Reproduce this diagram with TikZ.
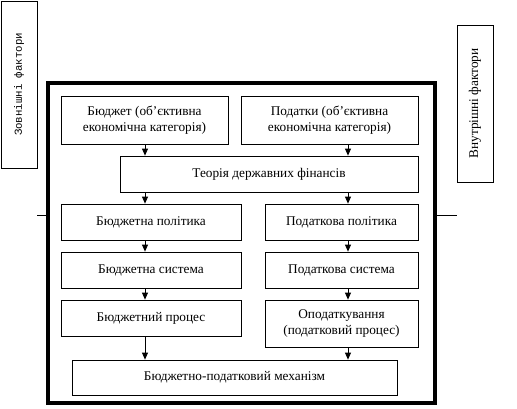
\documentclass[tikz,border=0pt]{standalone}
\usepackage{fontspec}
\setmainfont{Liberation Serif}
\newfontfamily\monofont{Liberation Mono}
\usetikzlibrary{arrows.meta}
\tikzset{
  blok/.style={draw, line width=0.8pt, align=center, inner sep=0pt, font=\fontsize{13.3}{16}\selectfont},
  strilka/.style={-{Triangle[width=6pt,length=7pt]}, line width=0.8pt},
}
\begin{document}
\begin{tikzpicture}[x=1pt,y=-1pt]
        \useasboundingbox (0,0) rectangle (517,408);
        % Зовнішні та внутрішні фактори
        \node[blok, rotate=90, minimum width=167pt, minimum height=36pt, font=\monofont\fontsize{10.7}{13}\selectfont] (zovn) at (19,84.5) {Зовнішні фактори};
        \node[blok, rotate=90, minimum width=157pt, minimum height=36pt] (vnutr) at (475,103.5) {Внутрішні фактори};
        \node[draw, line width=4pt, minimum width=387pt, minimum height=320pt] (ramka) at (241.5,243) {};
        \coordinate (lev) at (37,215);
        \coordinate (prav) at (457,215);
        \draw[line width=0.8pt] (lev) -- (lev -| ramka.west);
        \draw[line width=0.8pt] (ramka.east |- prav) -- (prav);
        % Блоки схеми
        \node[blok, minimum width=167pt, minimum height=48pt] (budget) at (144.5,120) {Бюджет (об’єктивна\\економічна категорія)};
        \node[blok, minimum width=177pt, minimum height=48pt] (taxes) at (329.5,120) {Податки (об’єктивна\\економічна категорія)};
        \node[blok, minimum width=298pt, minimum height=36pt] (theory) at (269,174) {Теорія державних фінансів};
        \node[blok, minimum width=180pt, minimum height=36pt] (bpol) at (151,222) {Бюджетна політика};
        \node[blok, minimum width=153pt, minimum height=36pt] (tpol) at (341.5,222) {Податкова політика};
        \node[blok, minimum width=180pt, minimum height=36pt] (bsys) at (151,270) {Бюджетна система};
        \node[blok, minimum width=153pt, minimum height=36pt] (tsys) at (341.5,270) {Податкова система};
        \node[blok, minimum width=180pt, minimum height=36pt] (bproc) at (151,318) {Бюджетний процес};
        \node[blok, minimum width=153pt, minimum height=47pt] (tproc) at (341.5,323.5) {Оподаткування\\(податковий процес)};
        \node[blok, minimum width=325pt, minimum height=35pt] (mech) at (234.5,377.5) {Бюджетно-податковий механізм};
        % Стрілки
        \coordinate (kl) at (145,0);
        \coordinate (kp) at (348,0);
        \draw[strilka] (budget.south -| kl) -- (theory.north -| kl);
        \draw[strilka] (taxes.south -| kp) -- (theory.north -| kp);
        \draw[strilka] (theory.south -| kl) -- (bpol.north -| kl);
        \draw[strilka] (theory.south -| kp) -- (tpol.north -| kp);
        \draw[strilka] (bpol.south -| kl) -- (bsys.north -| kl);
        \draw[strilka] (tpol.south -| kp) -- (tsys.north -| kp);
        \draw[strilka] (bsys.south -| kl) -- (bproc.north -| kl);
        \draw[strilka] (tsys.south -| kp) -- (tproc.north -| kp);
        \draw[strilka] (bproc.south -| kl) -- (mech.north -| kl);
        \draw[strilka] (tproc.south -| kp) -- (mech.north -| kp);
\end{tikzpicture}
\end{document}
